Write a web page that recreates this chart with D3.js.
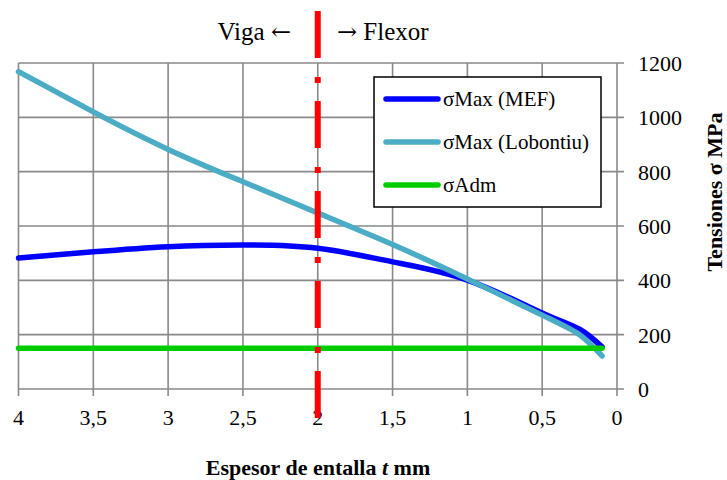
<!DOCTYPE html>
<html>
<head>
<meta charset="utf-8">
<script src="https://cdn.jsdelivr.net/npm/d3@7"></script>
<style>
  html, body { margin: 0; padding: 0; background: #fff; }
</style>
</head>
<body>
<svg id="chart" width="727" height="480"></svg>
<script>
// espesor de entalla t (mm)
const tMEF = [4, 3.5, 3, 2.5, 2, 1.5, 1, 0.5, 0.25, 0.1]
const sigmaMEF = [482, 505, 524, 530, 518, 468, 401, 280, 220, 155]

const tLob = [4, 3.5, 3, 2.5, 2, 1.5, 1, 0.5, 0.25, 0.1]
const sigmaLob = [1168, 1020, 882, 763, 648, 532, 405, 272, 200, 122]

const tAdm = [4, 0.1]
const sigmaAdm = [150, 150]

const xTicks = [4, 3.5, 3, 2.5, 2, 1.5, 1, 0.5, 0]
const yTicks = [0, 200, 400, 600, 800, 1000, 1200]
const tLimit = 2

const series = [
  { name: 'σMax (MEF)', t: tMEF, v: sigmaMEF, color: '#0000ff' },
  { name: 'σMax (Lobontiu)', t: tLob, v: sigmaLob, color: '#4bacc6' },
  { name: 'σAdm', t: tAdm, v: sigmaAdm, color: '#00cc00' }
]

const serif = '"Liberation Serif"'
const arrowFont = '"DejaVu Serif"'

const svg = d3.select('#chart')
const plot = { left: 18.5, right: 617, top: 63, bottom: 389 }

const x = d3.scaleLinear().domain([4, 0]).range([plot.left, plot.right])
const y = d3.scaleLinear().domain([0, 1200]).range([plot.bottom, plot.top])

const grid = svg.append('g')
  .attr('stroke', '#898989')
  .attr('stroke-width', 1.6)

// horizontal grid + right ticks
grid.selectAll('line.h')
  .data(yTicks)
  .join('line')
  .attr('class', 'h')
  .attr('x1', plot.left).attr('x2', plot.right + 7)
  .attr('y1', d => y(d)).attr('y2', d => y(d))

// vertical grid + bottom ticks
grid.selectAll('line.v')
  .data(xTicks)
  .join('line')
  .attr('class', 'v')
  .attr('x1', d => x(d)).attr('x2', d => x(d))
  .attr('y1', plot.top).attr('y2', plot.bottom + 7)

// y labels on the right
svg.append('g')
  .selectAll('text')
  .data(yTicks)
  .join('text')
  .attr('x', plot.right + 21)
  .attr('y', d => y(d) + 8)
  .attr('font-size', 22)
  .style('font-family', serif)
  .text(d => d)

// x labels
svg.append('g')
  .selectAll('text')
  .data(xTicks)
  .join('text')
  .attr('x', d => x(d))
  .attr('y', 425)
  .attr('text-anchor', 'middle')
  .attr('font-size', 22)
  .style('font-family', serif)
  .text(d => String(d).replace('.', ','))

// series
const line = d3.line()
  .x(d => x(d[0]))
  .y(d => y(d[1]))
  .curve(d3.curveNatural)

svg.append('g')
  .selectAll('path')
  .data(series)
  .join('path')
  .attr('d', s => line(s.t.map((t, i) => [t, s.v[i]])))
  .attr('fill', 'none')
  .attr('stroke', s => s.color)
  .attr('stroke-width', 5.5)
  .attr('stroke-linecap', 'round')
  .attr('stroke-linejoin', 'round')

// limite viga / flexor
svg.append('line')
  .attr('x1', x(tLimit)).attr('x2', x(tLimit))
  .attr('y1', 11).attr('y2', 418)
  .attr('stroke', '#ff0000')
  .attr('stroke-width', 6)
  .attr('stroke-dasharray', '47 19 6 18')

const tl = svg.append('text')
  .attr('x', 291).attr('y', 40)
  .attr('text-anchor', 'end')
  .attr('font-size', 25)
  .style('font-family', serif)
tl.append('tspan').text('Viga ')
tl.append('tspan').style('font-family', arrowFont).attr('font-size', 24).text('←')

const tr = svg.append('text')
  .attr('x', 337).attr('y', 40)
  .attr('font-size', 25)
  .style('font-family', serif)
tr.append('tspan').style('font-family', arrowFont).attr('font-size', 24).text('→')
tr.append('tspan').text(' Flexor')

// legend
const lg = svg.append('g')
lg.append('rect')
  .attr('x', 374).attr('y', 77)
  .attr('width', 227).attr('height', 130)
  .attr('fill', '#fff')
  .attr('stroke', '#000')
  .attr('stroke-width', 1.5)

const item = lg.selectAll('g.item')
  .data(series)
  .join('g')
  .attr('class', 'item')
  .attr('transform', (d, i) => `translate(0,${99 + i * 43})`)

item.append('line')
  .attr('x1', 386).attr('x2', 438)
  .attr('stroke', d => d.color)
  .attr('stroke-width', 5.5)
  .attr('stroke-linecap', 'round')

item.append('text')
  .attr('x', 443)
  .attr('y', 7)
  .attr('font-size', 21)
  .style('font-family', serif)
  .text(d => d.name)

// axis titles
const xt = svg.append('text')
  .attr('x', 318).attr('y', 475)
  .attr('text-anchor', 'middle')
  .attr('font-size', 22)
  .attr('font-weight', 'bold')
  .style('font-family', serif)
xt.append('tspan').text('Espesor de entalla ')
xt.append('tspan').attr('font-style', 'italic').text('t')
xt.append('tspan').text(' mm')

svg.append('text')
  .attr('transform', 'translate(722,192) rotate(-90)')
  .attr('text-anchor', 'middle')
  .attr('font-size', 22)
  .attr('font-weight', 'bold')
  .style('font-family', serif)
  .text('Tensiones σ MPa')
</script>
</body>
</html>
